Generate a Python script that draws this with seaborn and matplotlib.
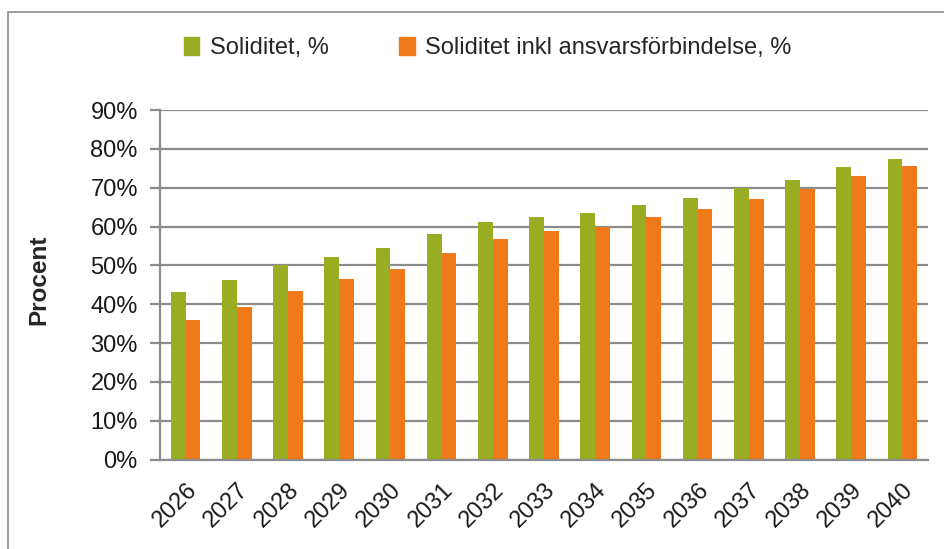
import pandas as pd
import matplotlib.pyplot as plt
import matplotlib.patches as mpatches
import seaborn as sns

# Data
years = [str(y) for y in range(2026, 2041)]
soliditet = [43.2, 46.1, 50.0, 52.2, 54.5, 58.1, 61.2, 62.5, 63.4, 65.6, 67.3, 69.8, 72.0, 75.3, 77.5]
soliditet_inkl = [35.8, 39.3, 43.4, 46.4, 49.1, 53.2, 56.9, 58.8, 59.9, 62.5, 64.4, 67.2, 69.6, 73.1, 75.7]
series_names = ['Soliditet, %', 'Soliditet inkl ansvarsförbindelse, %']
colors = ['#9aad22', '#f07a1a']

df = pd.DataFrame({
    'År': years * 2,
    'Värde': [v / 100 for v in soliditet + soliditet_inkl],
    'Serie': [series_names[0]] * len(years) + [series_names[1]] * len(years),
})

sns.set_style('white')
plt.rcParams['font.family'] = ['Liberation Sans', 'DejaVu Sans']

fig = plt.figure(figsize=(9.45, 5.49), dpi=100)
ax = fig.add_axes([0.1693, 0.163, 0.8127, 0.6366])

sns.barplot(data=df, x='År', y='Värde', hue='Serie', palette=colors,
            width=0.575, saturation=1, linewidth=0, ax=ax, legend=False)

grid_c = '#8c8c8c'
ax.set_ylim(0, 0.9)
ax.set_xlim(-0.5, len(years) - 0.5)
ax.set_yticks([i / 10 for i in range(10)])
ax.set_yticklabels([f'{i * 10}%' for i in range(10)], fontsize=17, color='#1a1a1a')
ax.yaxis.grid(True, color=grid_c, linewidth=1.6)
ax.set_axisbelow(True)

ax.set_xticks(range(len(years)))
ax.set_xticklabels(years, rotation=45, ha='right', rotation_mode='anchor', fontsize=17,
                   color='#1a1a1a')
ax.set_xticks([i - 0.5 for i in range(len(years) + 1)], minor=True)
ax.tick_params(axis='x', which='major', length=0, pad=14)
ax.tick_params(axis='x', which='minor', length=7, width=1.6, color=grid_c, direction='out')
ax.tick_params(axis='y', length=7, width=1.6, color=grid_c, direction='out', pad=9, left=True)

for s in ['top', 'right']:
    ax.spines[s].set_visible(False)
for s in ['left', 'bottom']:
    ax.spines[s].set_color(grid_c)
    ax.spines[s].set_linewidth(1.6)

ax.set_xlabel('')
ax.set_ylabel('Procent', fontsize=17.5, fontweight='bold')
ax.yaxis.set_label_coords(-0.143, 0.515)

handles = [mpatches.Patch(color=c, label=n) for c, n in zip(colors, series_names)]
fig.legend(handles=handles, loc='center', bbox_to_anchor=(0.516, 0.912), ncol=2,
           frameon=False, fontsize=17, handlelength=0.65, handleheight=0.8,
           handletextpad=0.45, columnspacing=3.0)

# outer frame
fig.patches.append(mpatches.Rectangle((8 / 945, -0.05), 1.1, 1 - 12 / 549 + 0.05,
                                      transform=fig.transFigure, fill=False,
                                      edgecolor='#8c8c8c', linewidth=1.2))

fig.savefig('out.png', dpi=100)
